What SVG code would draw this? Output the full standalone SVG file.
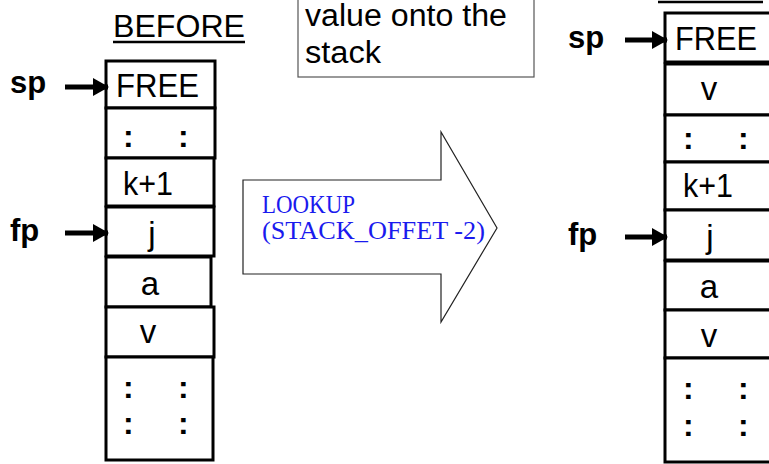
<svg xmlns="http://www.w3.org/2000/svg" width="769" height="464" viewBox="0 0 769 464">
<defs>
<style>
.cell{fill:#fff;stroke:#000;stroke-width:3}
.t{font-family:"Liberation Sans",Arial,sans-serif;font-size:33px;fill:#000}
.c{font-family:"Liberation Sans",Arial,sans-serif;font-size:32px;font-weight:bold;fill:#000}
.h{font-family:"Liberation Sans",Arial,sans-serif;font-size:31px;fill:#000}
.b{font-family:"Liberation Sans",Arial,sans-serif;font-size:31px;font-weight:bold;fill:#000}
.m{text-anchor:middle}
.ptr{stroke:#000;stroke-width:5;fill:none}
.lk{font-family:"Liberation Serif","Times New Roman",serif;font-size:25px;fill:#1a1aee}
</style>
<marker id="ah" markerUnits="userSpaceOnUse" markerWidth="16" markerHeight="18" refX="15" refY="9" orient="auto" viewBox="0 0 16 18">
<path d="M0,0 L16,9 L0,18 Z" fill="#000"/>
</marker>
</defs>
<rect width="769" height="464" fill="#fff"/>

<g id="before-title">
<text class="h" x="113" y="37" textLength="132" lengthAdjust="spacingAndGlyphs">BEFORE</text>
<line x1="113" y1="42" x2="245" y2="42" stroke="#000" stroke-width="2.5"/>
</g>

<g id="after-title">
<line x1="658" y1="2" x2="763" y2="2" stroke="#000" stroke-width="2.5"/>
</g>

<g id="note">
<rect x="298" y="-10" width="236" height="87" fill="#fff" stroke="#555" stroke-width="1.2"/>
<text class="h" x="305" y="26" textLength="202" lengthAdjust="spacingAndGlyphs">value onto the</text>
<text class="h" x="305" y="63" textLength="76" lengthAdjust="spacingAndGlyphs">stack</text>
</g>

<g id="big-arrow">
<polygon points="243,180 441,180 441,132 497,228 441,322 441,274 243,274" fill="#fff" stroke="#222" stroke-width="1.2"/>
<text class="lk" x="262" y="213" textLength="93" lengthAdjust="spacingAndGlyphs">LOOKUP</text>
<text class="lk" x="262" y="239" textLength="223" lengthAdjust="spacingAndGlyphs" xml:space="preserve">(STACK_OFFET -2)</text>
</g>

<g id="before-stack">
<rect class="cell" x="106" y="61" width="109" height="47"/>
<rect class="cell" x="106" y="108" width="109" height="50"/>
<rect class="cell" x="106" y="158" width="108" height="48"/>
<rect class="cell" x="106" y="207" width="108" height="49"/>
<rect class="cell" x="106" y="257" width="105" height="50"/>
<rect class="cell" x="106" y="307" width="108" height="50"/>
<rect class="cell" x="106" y="357" width="107" height="103"/>
<text class="t" x="116" y="97" textLength="83" lengthAdjust="spacingAndGlyphs">FREE</text>
<text class="c" x="123" y="147">:</text>
<text class="c" x="178" y="147">:</text>
<text class="t" x="123" y="195" textLength="50" lengthAdjust="spacingAndGlyphs">k+1</text>
<text class="t m" x="152" y="245">j</text>
<text class="t m" x="150" y="295">a</text>
<text class="t m" x="148" y="343">v</text>
<text class="c" x="123" y="398">:</text>
<text class="c" x="178" y="398">:</text>
<text class="c" x="123" y="434">:</text>
<text class="c" x="178" y="434">:</text>
</g>

<g id="after-stack">
<rect class="cell" x="665" y="13" width="112" height="49"/>
<rect class="cell" x="665" y="64" width="112" height="51"/>
<rect class="cell" x="665" y="115" width="112" height="47"/>
<rect class="cell" x="665" y="162" width="112" height="48"/>
<rect class="cell" x="665" y="210" width="112" height="50"/>
<rect class="cell" x="665" y="261" width="112" height="49"/>
<rect class="cell" x="665" y="310" width="112" height="48"/>
<rect class="cell" x="665" y="358" width="112" height="104"/>
<text class="t" x="675" y="50" textLength="82" lengthAdjust="spacingAndGlyphs">FREE</text>
<text class="t m" x="709" y="100">v</text>
<text class="c" x="683" y="149">:</text>
<text class="c" x="738" y="149">:</text>
<text class="t" x="683" y="197" textLength="50" lengthAdjust="spacingAndGlyphs">k+1</text>
<text class="t m" x="710" y="248">j</text>
<text class="t m" x="709" y="298">a</text>
<text class="t m" x="709" y="347">v</text>
<text class="c" x="683" y="399">:</text>
<text class="c" x="738" y="399">:</text>
<text class="c" x="683" y="436">:</text>
<text class="c" x="738" y="436">:</text>
</g>

<g id="labels">
<text class="b" x="10" y="93">sp</text>
<text class="b" x="10" y="241">fp</text>
<text class="b" x="568" y="48">sp</text>
<text class="b" x="568" y="245">fp</text>
</g>

<g id="connectors">
<line class="ptr" x1="65" y1="87" x2="108" y2="87" marker-end="url(#ah)"/>
<line class="ptr" x1="65" y1="233" x2="108" y2="233" marker-end="url(#ah)"/>
<line class="ptr" x1="625" y1="40" x2="667" y2="40" marker-end="url(#ah)"/>
<line class="ptr" x1="625" y1="237" x2="667" y2="237" marker-end="url(#ah)"/>
</g>
</svg>
